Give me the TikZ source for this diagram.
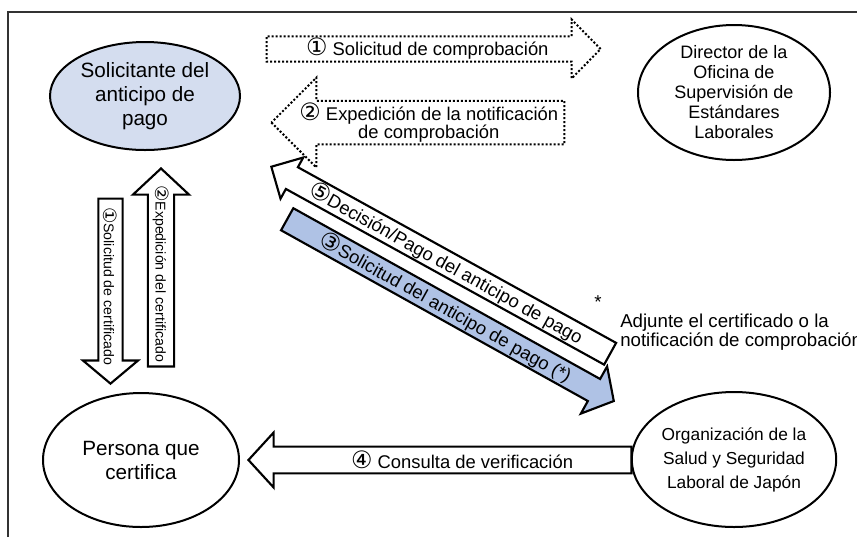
\documentclass[tikz,border=0pt]{standalone}
\usepackage{fontspec}
\setmainfont{Liberation Sans}
\newfontfamily\circfont{DejaVu Sans}
\usepackage{graphicx}
\usepackage{tikz}
\usetikzlibrary{shapes.geometric,shapes.arrows}

\definecolor{applblue}{RGB}{212,221,239}
\definecolor{reqblue}{RGB}{175,194,229}
\newcommand{\cnum}[1]{\scalebox{1.3}{\circfont #1}}

\begin{document}
\begin{tikzpicture}[
  x=0.75pt, y=-0.75pt,
  party/.style={ellipse, draw, line width=1.5pt, inner sep=0pt, align=center},
  flow/.style={single arrow, draw, line width=1.6pt, inner sep=0pt,
               single arrow head indent=0pt, align=center, anchor=tip,
               font=\fontsize{13.8}{10}\selectfont},
  dotflow/.style={flow, dash pattern=on 1.5pt off 1.5pt, line width=1.5pt},
  sideflow/.style={flow, rotate=-90, font=\fontsize{10.6}{12}\selectfont},
]
  \useasboundingbox (0,0) rectangle (857,537);
  \draw[line width=2pt, black!80] (8,537) -- (8,12) -- (857,12);

  % the four parties
  \node[party, fill=applblue, minimum width=142.5pt, minimum height=81pt,
        font=\fontsize{15.5}{18}\selectfont] (appl) at (145,96)
    {Solicitante del\\anticipo de\\pago};
  \node[party, minimum width=144pt, minimum height=101.25pt,
        font=\fontsize{13.5}{15}\selectfont] (dir) at (734,92.5)
    {Director de la\\Oficina de\\Supervisión de\\Estándares\\Laborales};
  \node[party, minimum width=147pt, minimum height=100.5pt,
        font=\fontsize{15.5}{18}\selectfont] (cert) at (141,460)
    {Persona que\\certifica};
  \node[party, minimum width=144pt, minimum height=101.25pt,
        font=\fontsize{13}{18}\selectfont] (org) at (734,459.5)
    {Organización de la\\Salud y Seguridad\\Laboral de Japón};

  % dotted route via the director
  \node[dotflow, minimum height=250.5pt, minimum width=44.25pt,
        single arrow head extend=11.6pt, single arrow tip angle=91] (ask) at (602,49)
    {\cnum{①} Solicitud de comprobación};
  \node[dotflow, shape border rotate=180, minimum height=219.75pt, minimum width=67.5pt,
        single arrow head extend=16.9pt, single arrow tip angle=90] (issue) at (270,122.5)
    {\cnum{②} Expedición de la notificación\\de comprobación};

  % certificate route
  \node[sideflow, minimum height=138.75pt, minimum width=41.25pt,
        single arrow head extend=7.5pt, single arrow tip angle=100] (certreq) at (110.5,385)
    {\cnum{①}Solicitud de certificado};
  \node[sideflow, shape border rotate=180, minimum height=148.5pt, minimum width=42pt,
        single arrow head extend=7.9pt, single arrow tip angle=94] (certiss) at (161,167)
    {\cnum{②}Expedición del certificado};

  \node[flow, shape border rotate=180, minimum height=287.25pt, minimum width=41.25pt,
        single arrow head extend=7.9pt, single arrow tip angle=95] (verify) at (247,460)
    {\hspace*{24pt}\cnum{④} Consulta de verificación};

  % application and payment
  \node[flow, fill=white, rotate=-28.9, shape border rotate=180, minimum height=290.25pt,
        minimum width=35.25pt, single arrow head extend=7.9pt,
        single arrow tip angle=90] (pay) at (270,166)
    {\cnum{⑤}Decisión/Pago del anticipo de pago};
  \node[flow, fill=reqblue, rotate=-29.1, minimum height=280.35pt,
        minimum width=40.5pt, single arrow head extend=10.1pt,
        single arrow tip angle=100] (apply) at (615,401.7)
    {\cnum{③}Solicitud del anticipo de pago (*)};

  \node[font=\fontsize{14}{14.25}\selectfont] (mark) at (598,302) {*};
  \node[font=\fontsize{14}{14.25}\selectfont, align=left, anchor=north west,
        inner sep=0pt] (note) at (620,314)
    {Adjunte el certificado o la\\notificación de comprobación};
\end{tikzpicture}
\end{document}
